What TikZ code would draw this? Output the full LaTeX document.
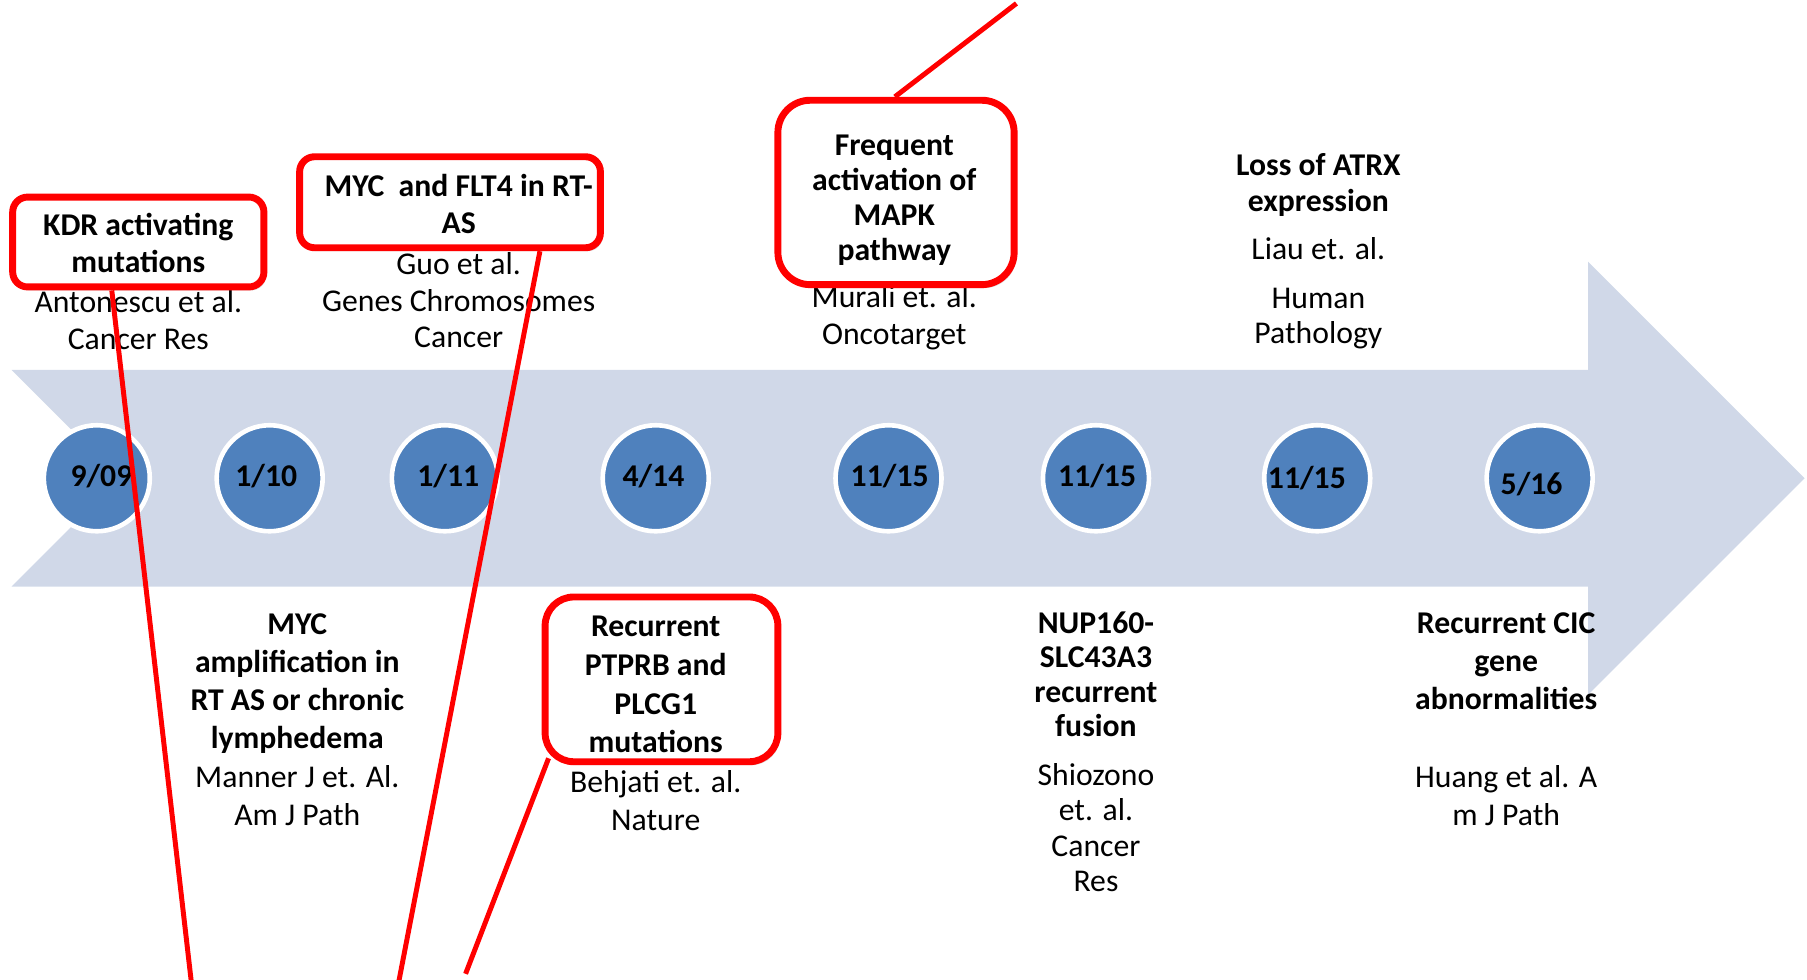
\documentclass[tikz,border=0pt]{standalone}
\usepackage{fontspec}
\setmainfont{Carlito}
\usetikzlibrary{shadows,calc}
\definecolor{band}{HTML}{D0D8E8}
\definecolor{dotblue}{HTML}{4F81BD}
\definecolor{redbox}{HTML}{FF0000}
\begin{document}
\begin{tikzpicture}[x=1pt,y=-1pt,
  txt/.style={align=center, inner sep=0pt, font=\fontsize{27.5}{32}\selectfont},
  btxt/.style={align=center, inner sep=0pt, font=\fontsize{27.5}{32}\selectfont\bfseries},
  dot/.style={circle, fill=dotblue, draw=white, line width=4pt, minimum size=92pt, inner sep=0pt},
  datetxt/.style={inner sep=0pt, font=\fontsize{27.5}{32}\selectfont\bfseries},
  rbox/.style={draw=redbox, fill=white, line width=6pt, inner sep=0pt,
    drop shadow={opacity=0.3, shadow xshift=2pt, shadow yshift=-3pt}},
  redline/.style={draw=redbox, line width=4.3pt}
]
\useasboundingbox (0,0) rectangle (1568,850);
% timeline arrow
\fill[band] (10,321) -- (1378,321) -- (1378,227) -- (1566,415) -- (1378,603)
  -- (1378,509) -- (10,509) -- (104,415) -- cycle;
% dots
\node[dot] (c1) at (84,415) {};
\node[dot] (c2) at (234,415) {};
\node[dot] (c3) at (386,415) {};
\node[dot] (c4) at (569,415) {};
\node[dot] (c5) at (771,415) {};
\node[dot] (c6) at (951,415) {};
\node[dot] (c7) at (1143,415) {};
\node[dot] (c8) at (1336,415) {};
\node[datetxt] (d1) at (88,413) {9/09};
\node[datetxt] (d2) at (231,413) {1/10};
\node[datetxt] (d3) at (389,413) {1/11};
\node[datetxt] (d4) at (567,413) {4/14};
\node[datetxt] (d5) at (772,413) {11/15};
\node[datetxt] (d6) at (952,413) {11/15};
\node[datetxt] (d7) at (1134,415) {11/15};
\node[datetxt] (d8) at (1329,420) {5/16};
% top citations
\node[txt] (antT) at (120,278) {Antonescu et al.\\Cancer Res};
\node[txt] (guoT) at (398,260.5) {Guo et al.\\Genes Chromosomes\\Cancer};
\node[txt] (muraliT) at (776,275.5) {Murali et. al.\\Oncotarget};
\node[btxt] (atrxT) at (1144,160.5) {Loss of ATRX\\expression};
\node[txt] (liauT) at (1144,216) {Liau et. al.};
\node[txt, font=\fontsize{27.5}{31}\selectfont] (humanT) at (1144,276.5) {Human\\Pathology};
% bottom texts
\node[btxt, font=\fontsize{27.5}{33}\selectfont\bfseries] (mycampT) at (258,593) {MYC\\amplification in\\RT AS or chronic\\lymphedema};
\node[txt, font=\fontsize{27.5}{33}\selectfont] (mannerT) at (258,690) {Manner J et. Al.\\Am J Path};
\node[txt, font=\fontsize{27.5}{33}\selectfont] (behjatiT) at (569,695) {Behjati et. al.\\Nature};
\node[btxt, font=\fontsize{27.5}{30}\selectfont\bfseries] (nupT) at (951,585) {NUP160-\\SLC43A3\\recurrent\\fusion};
\node[txt, font=\fontsize{27.5}{30.7}\selectfont] (shioT) at (951,718) {Shiozono\\et. al.\\Cancer\\Res};
\node[btxt, font=\fontsize{27.5}{33}\selectfont\bfseries] (cicT) at (1307,574) {Recurrent CIC\\gene\\abnormalities};
\node[txt, font=\fontsize{27.5}{33}\selectfont] (huangT) at (1307,690) {Huang et al. A\\m J Path};
% red boxes
\node[rbox, minimum width=218pt, minimum height=78pt, rounded corners=13pt] (kdrB) at (120,210) {};
\node[rbox, minimum width=261pt, minimum height=79pt, rounded corners=13pt] (mycB) at (390.5,175.5) {};
\node[rbox, minimum width=205pt, minimum height=160pt, rounded corners=28pt] (freqB) at (777.5,167) {};
\node[rbox, minimum width=202pt, minimum height=143pt, rounded corners=25pt] (ptprbB) at (574,589.5) {};
\node[btxt] (kdrT) at (120,211) {KDR activating\\mutations};
\node[btxt] (mycT) at (398,177) {MYC\ \ and FLT4 in RT-\\AS};
\node[btxt, font=\fontsize{27.5}{30.5}\selectfont\bfseries] (freqT) at (776,173.5) {Frequent\\activation of\\MAPK\\pathway};
\node[btxt, font=\fontsize{27.5}{33.5}\selectfont\bfseries] (ptprbT) at (569,594) {Recurrent\\PTPRB and\\PLCG1\\mutations};
% red connectors
\coordinate (e1) at (166,852);
\coordinate (e2) at (346,852);
\coordinate (e3) at (404,845);
\coordinate (e4) at (882,3);
\draw[redline] ($(kdrB.south)+(-23,0)$) -- (e1);
\draw[redline] ($(mycB.south)+(78,0)$) -- (e2);
\draw[redline] ($(ptprbB.south west)+(6,-6)$) -- (e3);
\draw[redline] ($(freqB.north)+(-1,0)$) -- (e4);
\end{tikzpicture}
\end{document}
